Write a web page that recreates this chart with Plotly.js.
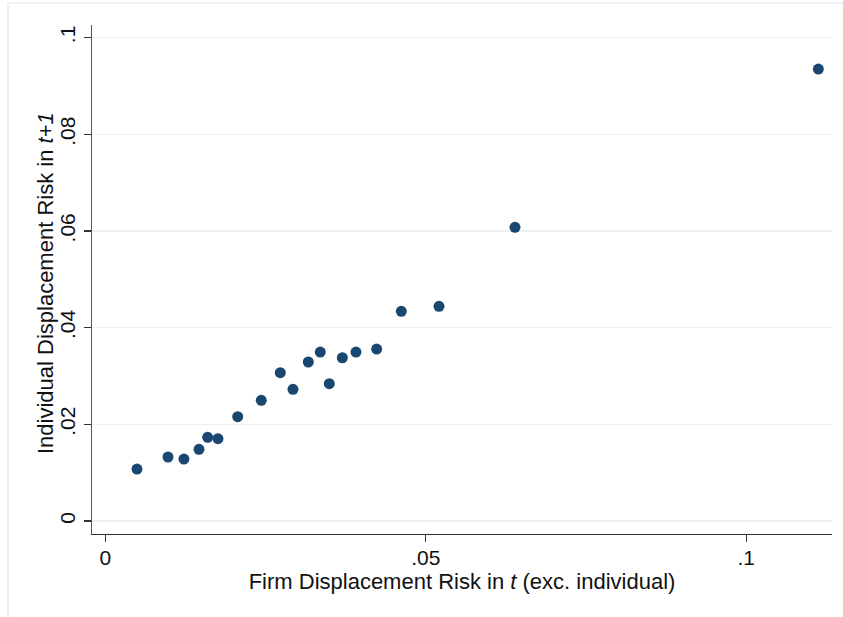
<!DOCTYPE html>
<html>
<head>
<meta charset="utf-8">
<script src="https://cdn.plot.ly/plotly-3.0.1.min.js"></script>
<style>html,body{margin:0;padding:0;background:#fff;}#chart{width:843px;height:617px;}</style>
</head>
<body>
<div id="chart"></div>
<script>
const firmRisk = [0.00492, 0.00976, 0.01225, 0.01460, 0.01595, 0.01756, 0.02064, 0.02432, 0.02729, 0.02927,
                  0.03166, 0.03353, 0.03494, 0.03697, 0.03910, 0.04233, 0.04618, 0.05206, 0.06392, 0.11127];
const indivRisk = [0.01075, 0.01324, 0.01282, 0.01483, 0.01731, 0.01702, 0.02157, 0.02496, 0.03067, 0.02724,
                   0.03289, 0.03495, 0.02840, 0.03377, 0.03495, 0.03557, 0.04337, 0.04441, 0.06074, 0.09349];
const xTickVals = [0, 0.05, 0.1];
const xTickText = ['0', '.05', '.1'];
const yTickVals = [0, 0.02, 0.04, 0.06, 0.08, 0.1];
const yTickText = ['0', '.02', '.04', '.06', '.08', '.1'];
const xTitle = 'Firm Displacement Risk in <i>t</i> (exc. individual)';
const yTitle = 'Individual Displacement Risk in <i>t+1</i>';

const font = 'Liberation Sans, Arial, sans-serif';
const trace = {
  x: firmRisk, y: indivRisk, type: 'scatter', mode: 'markers',
  marker: {color: '#1a476f', size: 11, line: {width: 0}},
  hoverinfo: 'x+y'
};
const layout = {
  width: 843, height: 617,
  margin: {l: 92, r: 11, t: 25, b: 83},
  paper_bgcolor: '#ffffff', plot_bgcolor: '#ffffff',
  showlegend: false,
  font: {family: font, color: '#111', size: 21},
  xaxis: {
    range: [-0.0021, 0.1134], tickvals: xTickVals, ticktext: xTickText,
    showgrid: false, zeroline: false, showline: true, linecolor: '#333', linewidth: 1.3,
    ticks: 'outside', ticklen: 7, tickcolor: '#333', tickwidth: 1.2,
    ticklabelstandoff: -3,
    tickfont: {size: 21, family: font, color: '#111'},
    title: {text: xTitle, font: {size: 22, family: font, color: '#111'}, standoff: 2},
    automargin: false
  },
  yaxis: {
    range: [-0.00269, 0.1026], tickvals: yTickVals, ticktext: yTickText, tickangle: -90,
    showgrid: true, gridcolor: '#eaf0f2', gridwidth: 1.5, zeroline: false,
    showline: true, linecolor: '#555', linewidth: 1.3,
    ticks: 'outside', ticklen: 7, tickcolor: '#333', tickwidth: 1.2,
    tickfont: {size: 21, family: font, color: '#111'},
    automargin: false
  },
  annotations: [{
    text: yTitle, xref: 'paper', yref: 'paper', x: -0.0635, y: 0.493,
    xanchor: 'center', yanchor: 'middle', textangle: -90, showarrow: false,
    font: {size: 22, family: font, color: '#111'}
  }],
  shapes: [{
    type: 'rect', xref: 'paper', yref: 'paper',
    x0: -0.1135, x1: 1.03, y0: -0.19, y1: 1.0432,
    line: {color: '#e3eaed', width: 1.2}, fillcolor: 'rgba(0,0,0,0)', layer: 'below'
  }]
};
Plotly.newPlot('chart', [trace], layout, {displayModeBar: false, staticPlot: true});
</script>
</body>
</html>
